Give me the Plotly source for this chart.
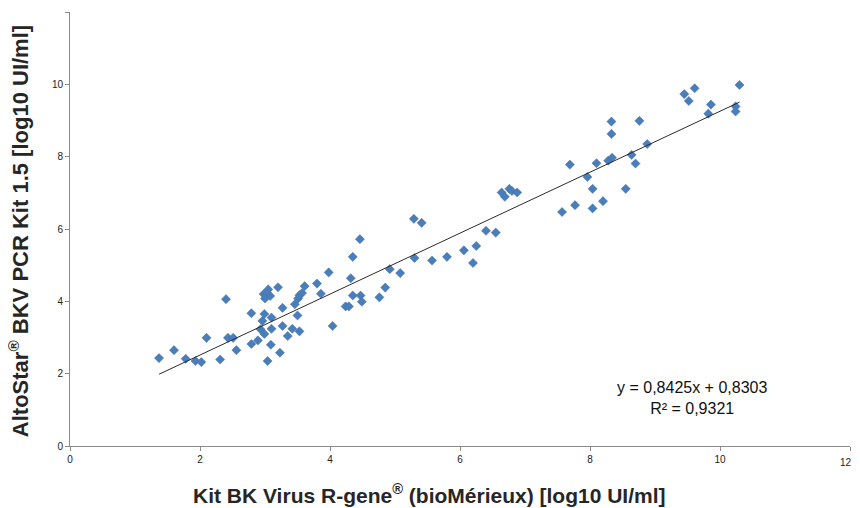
import plotly.graph_objects as go

# Kit BK Virus R-gene (x) vs AltoStar BKV PCR Kit 1.5 (y), log10 UI/ml
x_vals = [1.37, 1.60, 1.78, 1.93, 2.02, 2.10, 2.31, 2.40, 2.43, 2.51,
          2.56, 2.79, 2.79, 2.89, 2.93, 2.96, 2.99, 2.99, 2.98, 3.00,
          3.05, 3.08, 3.04, 3.09, 3.10, 3.10, 3.20, 3.23, 3.27, 3.27,
          3.35, 3.42, 3.46, 3.50, 3.51, 3.53, 3.57, 3.53, 3.61, 3.80,
          3.86, 3.98, 4.04, 4.24, 4.29, 4.32, 4.35, 4.35, 4.46, 4.47,
          4.49, 4.76, 4.85, 4.92, 5.08,
          5.29, 5.41, 5.30, 5.57, 5.80, 6.06, 6.20, 6.25, 6.40, 6.55,
          6.64, 6.69, 6.76, 6.80, 6.88, 7.57, 7.77, 8.04, 8.04, 8.20,
          8.55,
          7.69, 7.96, 8.10, 8.28, 8.34, 8.33, 8.33, 8.64, 8.70, 8.76,
          8.88, 9.45, 9.52, 9.61, 9.82, 9.86, 10.24, 10.24, 10.30]
y_vals = [2.43, 2.65, 2.41, 2.35, 2.32, 2.99, 2.39, 4.06, 2.99, 2.99,
          2.65, 3.67, 2.82, 2.92, 3.23, 3.46, 3.65, 3.10, 4.20, 4.08,
          4.33, 4.15, 2.35, 2.80, 3.55, 3.24, 4.39, 2.58, 3.82, 3.32,
          3.04, 3.24, 3.92, 3.61, 4.08, 4.17, 4.23, 3.17, 4.42, 4.49,
          4.21, 4.80, 3.32, 3.86, 3.86, 4.64, 4.16, 5.23, 5.72, 4.16,
          3.99, 4.11, 4.38, 4.89, 4.78,
          6.28, 6.17, 5.20, 5.13, 5.23, 5.41, 5.06, 5.53, 5.95, 5.90,
          7.01, 6.89, 7.11, 7.05, 7.01, 6.47, 6.66, 7.11, 6.57, 6.77,
          7.11,
          7.78, 7.44, 7.82, 7.89, 7.97, 8.63, 8.97, 8.05, 7.81, 8.99,
          8.35, 9.73, 9.54, 9.89, 9.19, 9.44, 9.39, 9.25, 9.98]

slope = 0.8425
intercept = 0.8303
r_squared = 0.9321

tick_vals = [0, 2, 4, 6, 8, 10, 12]
tick_text = ["0", "2", "4", "6", "8", "10", "12"]

x_title = "<b>Kit BK Virus R-gene<sup>®</sup> (bioMérieux) [log10 UI/ml]</b>"
y_title = "<b>AltoStar<sup>®</sup> BKV PCR Kit 1.5 [log10 UI/ml]</b>"
eq_text = "y = 0,8425x + 0,8303<br>R² = 0,9321"

x_line = [min(x_vals), max(x_vals)]
y_line = [slope * v + intercept for v in x_line]

tick_font = dict(family="Liberation Sans, Arial", size=10, color="#222222")

fig = go.Figure()
fig.add_trace(go.Scatter(
    x=x_vals, y=y_vals, mode="markers",
    marker=dict(symbol="diamond", size=7, color="#4A7EBB",
                line=dict(width=0.5, color="#3F6FA8")),
    showlegend=False, hoverinfo="x+y"))
fig.add_trace(go.Scatter(
    x=x_line, y=y_line, mode="lines",
    line=dict(color="#2b2b2b", width=1),
    showlegend=False, hoverinfo="skip"))

axis_common = dict(
    tickvals=tick_vals,
    showgrid=False, zeroline=False,
    showline=True, linecolor="#8a8a8a", linewidth=1,
    ticks="outside", ticklen=4, tickcolor="#8a8a8a", tickwidth=1,
    tickfont=tick_font,
    fixedrange=True,
)
# last x label is drawn as an annotation so it is not clipped at the page edge
fig.update_xaxes(range=[0, 12], ticktext=tick_text[:-1] + [""], **axis_common)
fig.update_yaxes(range=[0, 12], ticktext=tick_text, **axis_common)

# page body has an 8px margin, so the figure is 852x500 drawn from (8, 8)
fig.update_layout(
    width=852, height=500,
    margin=dict(l=62, r=10, t=4, b=62),
    paper_bgcolor="white", plot_bgcolor="white",
    font=dict(family="Liberation Sans, Arial"),
    annotations=[
        dict(text=x_title, xref="paper", yref="paper", x=0.4615, y=0,
             xanchor="center", yanchor="middle", yshift=-48, showarrow=False,
             font=dict(family="Liberation Sans, Arial", size=21, color="#262626")),
        dict(text=y_title, xref="paper", yref="paper", x=0, y=0.495,
             xanchor="center", yanchor="middle", xshift=-51, textangle=-90,
             showarrow=False,
             font=dict(family="Liberation Sans, Arial", size=22, color="#262626")),
        dict(text=eq_text, xref="paper", yref="paper", x=0.797, y=0.11,
             xanchor="center", yanchor="middle", showarrow=False, align="center",
             font=dict(family="Liberation Sans, Arial", size=16, color="#111111")),
        dict(text=tick_text[-1], xref="x", yref="paper", x=tick_vals[-1], y=0,
             xanchor="right", yanchor="middle", xshift=3, yshift=-16,
             showarrow=False, borderpad=0, font=tick_font),
    ],
)

fig.write_html("out.html")
